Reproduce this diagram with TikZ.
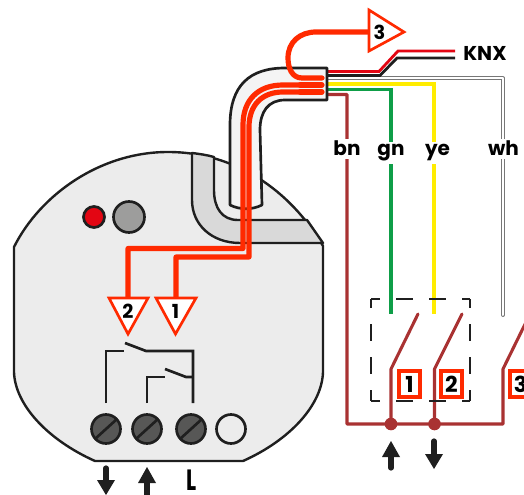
\documentclass[tikz,border=0pt]{standalone}
\usepackage{fontspec}
\setmainfont{Poppins}
\definecolor{wred}{HTML}{FF2A00}
\definecolor{devfill}{HTML}{ECECEC}
\definecolor{chanfill}{HTML}{D9D9D9}
\definecolor{cablefill}{HTML}{F4F4F4}
\definecolor{ink}{HTML}{1F1F1F}
\definecolor{brownw}{HTML}{A93232}
\definecolor{greenw}{HTML}{0E9E48}
\definecolor{yellw}{HTML}{FFEC00}
\definecolor{knxred}{HTML}{E30613}
\definecolor{ledred}{HTML}{E30613}
\definecolor{ledgray}{HTML}{9D9D9C}
\definecolor{screwfill}{HTML}{575756}
\definecolor{wiregray}{HTML}{777777}
\tikzset{
  outl/.style={draw=ink,line width=1.8pt,line join=round},
  redwire/.style={draw=wred,line width=3.9pt,line join=round},
  contact/.style={draw=ink,line width=2pt},
  tri/.style={draw=wred,fill=white,line width=2pt,line join=miter},
  lbl/.style={font=\fontsize{15}{16}\selectfont\bfseries,inner sep=0pt,text=black},
  num/.style={font=\fontsize{14.5}{15}\selectfont\bfseries,inner sep=0pt,text=black},
  wirelbl/.style={lbl,fill=white,inner xsep=1pt,inner ysep=2pt},
  screw/.style={circle,draw=ink,fill=screwfill,line width=2pt,minimum size=29*0.75pt,inner sep=0pt},
  numbox/.style={draw=wred,fill=white,line width=2.3pt,minimum width=21*0.75pt,minimum height=26*0.75pt,inner sep=0pt,font=\fontsize{16.5}{17}\selectfont\bfseries},
  brownline/.style={draw=brownw,line width=2.3pt,line join=round},
  dashside/.style={draw=ink,line width=1pt,dash pattern=on 16.5*0.75pt off 16.5*0.75pt,dash phase=8*0.75pt},
}
\newcommand{\uparr}[3]{% x, tip y, end y
  \fill[ink] (#1-9,#2+16) -- (#1,#2) -- (#1+9,#2+16) -- cycle;
  \draw[ink,line width=3.9pt,line cap=round] (#1,#2+10) -- (#1,#3);
}
\newcommand{\dnarr}[3]{% x, tip y, start y
  \fill[ink] (#1-9,#2-15) -- (#1,#2) -- (#1+9,#2-15) -- cycle;
  \draw[ink,line width=3.9pt,line cap=round] (#1,#2-8) -- (#1,#3);
}
\begin{document}
\begin{tikzpicture}[x=0.75pt,y=-0.75pt]
\useasboundingbox (0,0) rectangle (524,495);
\begin{scope}
\clip (0,0) rectangle (524,495);
% device body
\draw[outl,fill=devfill] (14,247) .. controls (40,195) and (100,152) .. (168,152)
  .. controls (235,152) and (290,190) .. (323,246)
  -- (323,372) .. controls (322,405) and (290,440) .. (243,461)
  -- (95,461) .. controls (48,440) and (15,405) .. (14,372) -- cycle;
% channel
\draw[outl,fill=chanfill] (192,153) -- (192,200) .. controls (192,225) and (212,243) .. (240,243)
  -- (323,243) -- (307,220) -- (238,220) .. controls (222,220) and (214,208) .. (214,190)
  -- (214,157) .. controls (207,155) and (200,154) .. (192,153) -- cycle;
% LEDs
\draw[outl,fill=ledred,line width=2pt] (94,217) circle (10.5);
\draw[outl,fill=ledgray,line width=2pt] (129,217) circle (15.5);
% outer wires
\coordinate (cabW) at (327,78.5);
\coordinate (whEnd) at (503,315);
\draw[draw=wiregray,line width=3pt,line join=round,line cap=round] (cabW) -- (503,78.5) -- (whEnd);
\draw[draw=white,line width=1.5pt,line join=round,line cap=round] (cabW) -- (503,78.5) -- (whEnd);
\coordinate (cabY) at (327,84);
\coordinate (yeEnd) at (434,314);
\draw[draw=yellw,line width=2.4pt] (cabY) -- (434,84) -- (yeEnd);
\coordinate (cabG) at (327,89.5);
\coordinate (gnEnd) at (391,314);
\draw[draw=greenw,line width=2.4pt] (cabG) -- (391,89.5) -- (gnEnd);
\coordinate (cabR) at (327,71.5);
\coordinate (knxR) at (455,51);
\draw[draw=knxred,line width=2.1pt] (cabR) -- (379,71.5) -- (398,51) -- (knxR);
\coordinate (cabK) at (327,75.5);
\coordinate (knxK) at (455,58);
\draw[draw=ink,line width=2.1pt] (cabK) -- (380,75.5) -- (397,58) -- (knxK);
% brown network
\coordinate (cabB) at (327,94.5);
\coordinate (j1) at (391,424);
\coordinate (j2) at (434.5,424);
\draw[brownline] (cabB) -- (347,94.5) -- (347,424) -- (503,424) -- (503,369) -- (530,314);
\draw[brownline,line cap=round] (j1) -- (391,369) -- (418,314);
\draw[brownline,line cap=round] (j2) -- (434.5,369) -- (462,314);
\fill[brownw] (j1) circle (6.3);
\fill[brownw] (j2) circle (6.3);
% dashed box
\draw[dashside] (371,299) -- (470,299);
\draw[dashside] (371,401) -- (470,401);
\draw[dashside] (371,299) -- (371,401);
\draw[dashside] (470,299) -- (470,401);
% cable
\draw[outl,fill=cablefill,line width=2pt] (327,68) -- (285,68) .. controls (250,68) and (230,85) .. (230,125)
  -- (230,205) .. controls (240,210) and (252,210) .. (262,205)
  -- (260,130) .. controls (260,112) and (268,100) .. (285,100) -- (327,100) -- cycle;
% red wires
\coordinate (t3) at (369,32);
\coordinate (t2) at (128,300);
\coordinate (t1) at (176,300);
\draw[redwire,line cap=round] (322,78) -- (302,78) .. controls (292,78) and (288,68) .. (288,58)
  .. controls (288,42) and (300,32) .. (316,32) -- (t3);
\draw[redwire] (322,85) -- (283,85) .. controls (258,85) and (243,100) .. (243,125) -- (243,248.5) -- (128,248.5) -- (t2);
\draw[redwire] (322,92) -- (283,92) .. controls (262,92) and (249,105) .. (249,127) -- (249,257) -- (176,257) -- (t1);
\draw[draw=wred,line width=3.9pt,line cap=round] (300,85) -- (322,85) (300,92) -- (322,92);
% triangles
\draw[tri] (369,10) -- (404,32) -- (369,51) -- cycle;
\node[num] (n3) at (379.5,32) {3};
\draw[tri] (109,298) -- (148,298) -- (128,334) -- cycle;
\node[num] (n2) at (128,311) {2};
\draw[tri] (156,298) -- (196,298) -- (175.5,334) -- cycle;
\node[num] (n1) at (175.5,311) {1};
% labels
\node[lbl,anchor=base west] (knx) at (463,61) {KNX};
\node[wirelbl,anchor=base] (bn) at (347,156) {bn};
\node[wirelbl,anchor=base] (gn) at (391,156) {gn};
\node[wirelbl,anchor=base] (ye) at (437.5,156) {ye};
\node[wirelbl,anchor=base] (wh) at (503.5,156) {wh};
% switch numbers
\node[numbox] (b1) at (409.5,384) {1};
\node[numbox] (b2) at (451.5,384) {2};
\node[numbox] (b3) at (520.5,384) {3};
% contacts
\draw[contact] (106,403) -- (106,351) -- (124,351);
\draw[contact] (125,343) -- (146,351) -- (193,351) -- (193,403);
\draw[contact] (147,403) -- (147,377) -- (165,377);
\draw[contact] (165,369) -- (186,377) -- (193,377);
% terminals
\foreach \n/\x in {sa/106,sb/147,sc/191}{
  \node[screw] (\n) at (\x,429) {};
  \draw[ink,line width=2pt] (\x-11,429+10) -- (\x+11,429-10);
}
\node[screw,fill=devfill] (sd) at (231,429) {};
% arrows
\dnarr{106}{495}{468}
\uparr{147}{467}{497}
\uparr{391}{441}{468}
\dnarr{434}{469}{441}
\node[inner sep=0pt,anchor=base,font=\fontsize{22}{23}\selectfont\bfseries] (L) at (192,490) {\scalebox{0.72}[1]{L}};
\end{scope}
\end{tikzpicture}
\end{document}
